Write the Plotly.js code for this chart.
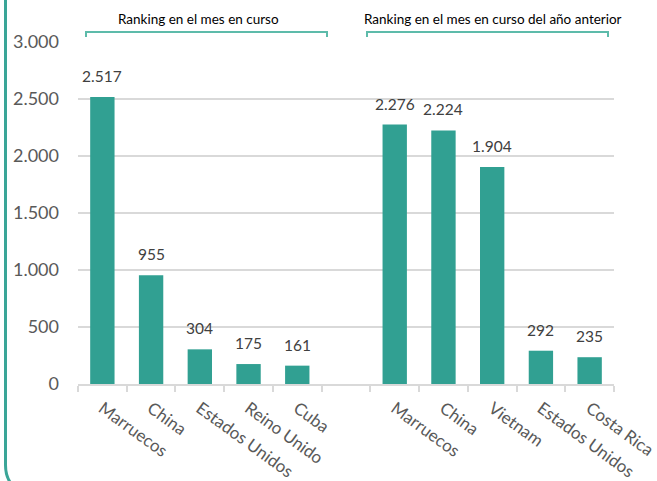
<!DOCTYPE html>
<html>
<head>
<meta charset="utf-8">
<script src="https://cdn.plot.ly/plotly-3.0.1.min.js"></script>
<style>html,body{margin:0;padding:0;background:#fff;}#chart{width:657px;height:481px;}</style>
</head>
<body>
<div id="chart"></div>
<script>
// Data
const groupCurrent = "Ranking en el mes en curso";
const groupPrevious = "Ranking en el mes en curso del año anterior";
const countriesCurrent = ["Marruecos", "China", "Estados Unidos", "Reino Unido", "Cuba"];
const valuesCurrent = [2517, 955, 304, 175, 161];
const countriesPrevious = ["Marruecos", "China", "Vietnam", "Estados Unidos", "Costa Rica"];
const valuesPrevious = [2276, 2224, 1904, 292, 235];

// Build the combined axis with an empty slot between the two groups
const labels = countriesCurrent.concat([""], countriesPrevious);
const values = valuesCurrent.concat([null], valuesPrevious);
const xs = labels.map((_, i) => i);

const W = 657, H = 481;
const L = 78, R = 614, T = 42, B = 384;
const px = p => (p - L) / (R - L);
const py = p => (B - p) / (B - T);

const teal = "#31A092";
const bracketColor = "#5DBBAA";
const FONT = "Lato, sans-serif";

const annotations = [];
xs.forEach((x, i) => {
  if (values[i] === null) return;
  annotations.push({
    x: x, y: values[i], xref: "x", yref: "y",
    text: values[i].toLocaleString("de-DE"),
    showarrow: false, yanchor: "bottom", yshift: 10,
    font: {family: FONT, size: 15.5, color: "#404040"}
  });
});
annotations.push({
  x: px(198), y: py(19), xref: "paper", yref: "paper",
  text: groupCurrent, showarrow: false, xanchor: "center", yanchor: "middle",
  font: {family: FONT, size: 13.5, color: "#000000"}
});
annotations.push({
  x: px(493), y: py(19), xref: "paper", yref: "paper",
  text: groupPrevious, showarrow: false, xanchor: "center", yanchor: "middle",
  font: {family: FONT, size: 13.5, color: "#000000"}
});

const bracket = (a, b) => ({
  type: "path", xref: "paper", yref: "paper",
  path: `M ${px(a)} ${py(37)} L ${px(a)} ${py(32)} L ${px(b)} ${py(32)} L ${px(b)} ${py(37)}`,
  line: {color: bracketColor, width: 2}
});

const shapes = [
  bracket(86, 327),
  bracket(367, 608),
  {
    type: "path", xref: "paper", yref: "paper",
    path: `M ${px(5.5)} ${py(-5)} L ${px(5.5)} ${py(465)} Q ${px(5.5)} ${py(478)} ${px(13)} ${py(486)}`,
    line: {color: "#3AA597", width: 3}
  }
];

const boundaries = [];
for (let i = 0; i <= labels.length; i++) boundaries.push(i - 0.5);

const data = [{
  type: "bar", x: xs, y: values,
  marker: {color: teal},
  hoverinfo: "skip"
}];

const layout = {
  width: W, height: H,
  margin: {l: L, r: W - R, t: T, b: H - B},
  paper_bgcolor: "#ffffff", plot_bgcolor: "#ffffff",
  separators: ",.",
  bargap: 0.5,
  showlegend: false,
  font: {family: FONT},
  xaxis: {
    type: "linear", range: [-0.5, labels.length - 0.5],
    tickvals: xs, ticktext: labels, tickangle: 36,
    ticks: "", showgrid: false, zeroline: false,
    showline: true, linecolor: "#d9d9d9", linewidth: 2,
    ticklabelstandoff: 6,
    ticklabeloverflow: "allow",
    tickfont: {family: FONT, size: 17, color: "#595959"},
    minor: {tickvals: boundaries, ticks: "outside", ticklen: 6, tickcolor: "#d9d9d9", tickwidth: 2, showgrid: false}
  },
  yaxis: {
    range: [0, 3000], dtick: 500, tickformat: ",",
    showgrid: true, gridcolor: "#d9d9d9", gridwidth: 1.5,
    zeroline: false, showline: false, ticks: "",
    ticklabelstandoff: 18,
    tickfont: {family: FONT, size: 18, color: "#595959"}
  },
  annotations: annotations,
  shapes: shapes
};

Plotly.newPlot("chart", data, layout, {displayModeBar: false, staticPlot: true});
</script>
</body>
</html>
